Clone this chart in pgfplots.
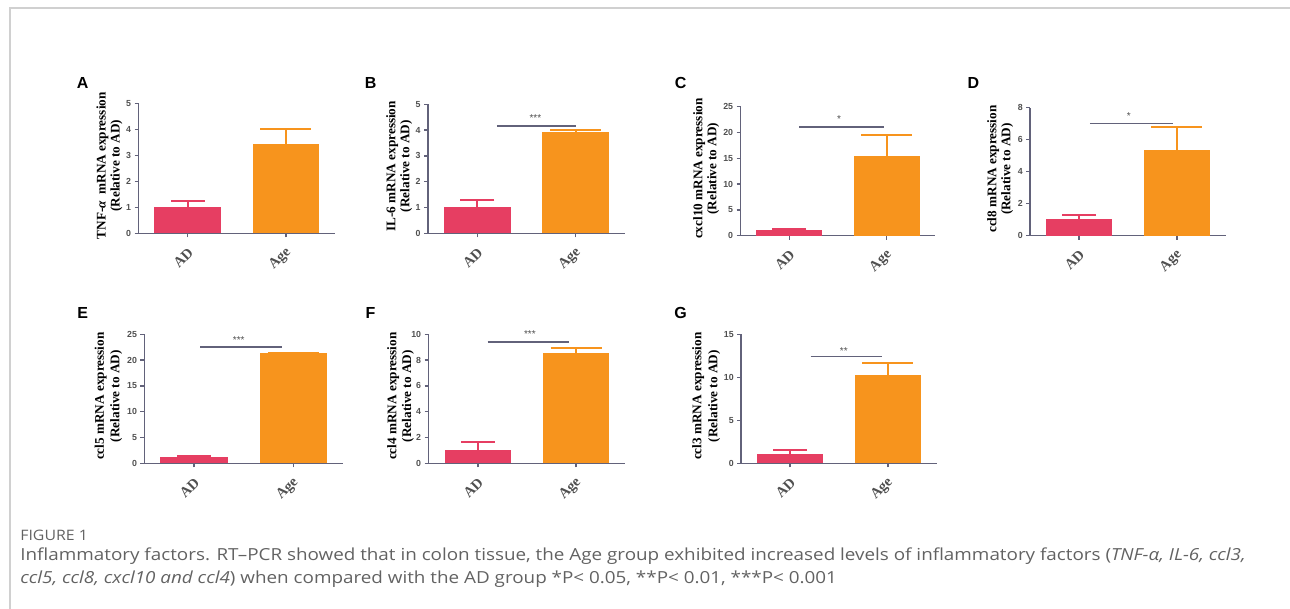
\documentclass[border=0pt]{standalone}
\usepackage{fontspec}
\setmainfont{Liberation Serif}
\newfontfamily\arialf{Liberation Sans}
\newfontfamily\capf{Open Sans}
\usepackage{pgfplots}
\pgfplotsset{compat=1.18}
\definecolor{adred}{HTML}{E63E62}
\definecolor{ageor}{HTML}{F7941D}
\definecolor{axc}{HTML}{62627A}
\definecolor{tickc}{HTML}{505050}
\definecolor{framec}{HTML}{D0D0D0}
\definecolor{capc}{HTML}{626262}
\pgfdeclareplotmark{agecap}{\pgfpathmoveto{\pgfqpoint{0pt}{2\pgfplotmarksize}}\pgfpathlineto{\pgfqpoint{0pt}{-\pgfplotmarksize}}\pgfusepathqstroke}
\pgfdeclareplotmark{adcap}{\pgfpathmoveto{\pgfqpoint{0pt}{-\pgfplotmarksize}}\pgfpathlineto{\pgfqpoint{0pt}{\pgfplotmarksize}}\pgfusepathqstroke}
\pgfplotsset{
  gp/.style={
    scale only axis, anchor=south west,
    axis lines=left,
    axis line style={-, line width=0.75pt, color=axc},
    xmin=-0.5, xmax=1.5, ymin=0,
    xtick={0,1}, xticklabels={AD,Age},
    tick align=outside, major tick length=2pt,
    tick style={line width=0.75pt, color=axc},
    xticklabel style={rotate=45, anchor=east, font=\bfseries\fontsize{7.3}{8}\selectfont, text=tickc, xshift=0pt, yshift=-5.6pt},
    yticklabel style={font=\arialf\bfseries\fontsize{4.4}{5}\selectfont, text=tickc, xshift=1.8pt},
    /pgf/number format/assume math mode=true,
    ylabel style={align=center, font=\bfseries\fontsize{6.6}{7}\selectfont, text=black,
      at={(axis description cs:0,0.52)}, anchor=center},
    ybar, bar width=0.676,
    clip=false,
  },
  adbar/.style={fill=adred, draw=none, bar shift=0pt,
    error bars/y dir=plus, error bars/y explicit,
    error bars/error bar style={line width=1pt, color=adred},
    error bars/error mark=adcap,
    error bars/error mark options={line width=1pt, color=adred, mark size=8.5pt}},
  agebar/.style={fill=ageor, draw=none, bar shift=0pt,
    error bars/y dir=plus, error bars/y explicit,
    error bars/error bar style={line width=1pt, color=ageor},
    error bars/error mark=agecap,
    error bars/error mark options={line width=1pt, color=ageor, mark size=8.5pt}},
  sig/.style={sharp plot, no marks, line width=0.75pt, color=axc},
}
\newcommand{\stars}[1]{{\arialf\fontsize{5}{5}\selectfont\color{tickc}#1}}
\begin{document}
\begin{tikzpicture}[x=0.5pt,y=-0.5pt]
\path[use as bounding box] (0,0) rectangle (1290,609);
\draw[framec, line width=1pt] (10,609) -- (10,8) -- (1290,8);
% panel letters
\begin{scope}[every node/.style={font=\arialf\bfseries\fontsize{8}{9}\selectfont}]
\node at (82.7,83.3) {A};
\node at (370.7,83.3) {B};
\node at (680.7,83.3) {C};
\node at (973.3,83.3) {D};
\node at (82.7,313.3) {E};
\node at (370.5,313.3) {F};
\node at (680.7,313.3) {G};
\end{scope}
% A
\begin{axis}[gp, at={(69.25pt,-116.65pt)}, width=98.3pt, height=65pt, ymax=5, ytick={0,1,2,3,4,5},
  ylabel style={yshift=14.5pt},
  ylabel={TNF-{\itshape α}\ \ mRNA expression\\(Relative to AD)}]
\addplot[adbar] coordinates {(0,1.02) +- (0,0.23)};
\addplot[agebar] coordinates {(1,3.42) +- (0,0.58)};
\end{axis}
% B
\begin{axis}[gp, at={(214.05pt,-116.65pt)}, width=98.4pt, height=64.5pt, ymax=5, ytick={0,1,2,3,4,5},
  ylabel style={yshift=14.5pt},
  ylabel={IL-6 mRNA expression\\(Relative to AD)}]
\addplot[adbar] coordinates {(0,1.01) +- (0,0.27)};
\addplot[agebar] coordinates {(1,3.94) +- (0,0.05)};
\addplot[sig] coordinates {(0.20,4.16) (1.0,4.16)};
\node at (axis cs:0.59,4.45) {\stars{***}};
\end{axis}
% C
\begin{axis}[gp, at={(370.3pt,-117.85pt)}, width=97.4pt, height=64.5pt, ymax=25, ytick={0,5,10,15,20,25},
  ylabel style={yshift=17.2pt},
  ylabel={cxcl10 mRNA expression\\(Relative to AD)}]
\addplot[adbar] coordinates {(0,1.1) +- (0,0.14)};
\addplot[agebar] coordinates {(1,15.45) +- (0,4.05)};
\addplot[sig] coordinates {(0.10,21.1) (0.97,21.1)};
\node at (axis cs:0.51,22.6) {\stars{*}};
\end{axis}
% D
\begin{axis}[gp, at={(515.1pt,-117.85pt)}, width=97.7pt, height=64pt, ymax=8, ytick={0,2,4,6,8},
  ylabel style={yshift=15pt},
  ylabel={ccl8 mRNA expression\\(Relative to AD)}]
\addplot[adbar] coordinates {(0,1.02) +- (0,0.29)};
\addplot[agebar] coordinates {(1,5.36) +- (0,1.41)};
\addplot[sig] coordinates {(0.11,7.02) (0.96,7.02)};
\node at (axis cs:0.51,7.5) {\stars{*}};
\end{axis}
% E
\begin{axis}[gp, at={(72.2pt,-231.65pt)}, width=99.3pt, height=64.5pt, ymax=25, ytick={0,5,10,15,20,25},
  ylabel style={yshift=18pt, font=\bfseries\fontsize{6.6}{7.8}\selectfont},
  ylabel={ccl5 mRNA expression\\(Relative to AD)}]
\addplot[adbar] coordinates {(0,1.16) +- (0,0.2)};
\addplot[agebar] coordinates {(1,21.3) +- (0,0.05)};
\addplot[sig] coordinates {(0.06,22.5) (0.89,22.5)};
\node at (axis cs:0.45,23.9) {\stars{***}};
\end{axis}
% F
\begin{axis}[gp, at={(214.3pt,-231.65pt)}, width=98.3pt, height=64.5pt, ymax=10, ytick={0,2,4,6,8,10},
  ylabel style={yshift=14pt, font=\bfseries\fontsize{6.6}{7.4}\selectfont},
  ylabel={ccl4 mRNA expression\\(Relative to AD)}]
\addplot[adbar] coordinates {(0,1.03) +- (0,0.65)};
\addplot[agebar] coordinates {(1,8.57) +- (0,0.34)};
\addplot[sig] coordinates {(0.10,9.42) (0.93,9.42)};
\node at (axis cs:0.53,10.0) {\stars{***}};
\end{axis}
% G
\begin{axis}[gp, at={(370.6pt,-231.65pt)}, width=97.7pt, height=64.5pt, ymax=15, ytick={0,5,10,15},
  ylabel style={yshift=17.5pt, font=\bfseries\fontsize{6.6}{8}\selectfont},
  ylabel={ccl3 mRNA expression\\(Relative to AD)}]
\addplot[adbar] coordinates {(0,1.05) +- (0,0.53)};
\addplot[agebar] coordinates {(1,10.23) +- (0,1.47)};
\addplot[sig] coordinates {(0.21,12.4) (0.94,12.4)};
\node at (axis cs:0.55,13.0) {\stars{**}};
\end{axis}
% caption
\begin{scope}[every node/.style={anchor=west, inner sep=0pt, text=capc}]
\node[font=\capf\fontsize{7.2}{8}\selectfont] at (20,535) {\scalebox{1.1}[1]{FIGURE 1}};
\node[font=\capf\fontsize{8.3}{9}\selectfont] at (20,556) {\scalebox{1.135}[1]{Inflammatory factors. RT–PCR showed that in colon tissue, the Age group exhibited increased levels of inflammatory factors (\textit{TNF-α, IL-6, ccl3,}}};
\node[font=\capf\fontsize{8.3}{9}\selectfont] at (20,579) {\scalebox{1.135}[1]{\textit{ccl5, ccl8, cxcl10 and ccl4}) when compared with the AD group *P< 0.05, **P< 0.01, ***P< 0.001}};
\end{scope}
\end{tikzpicture}
\end{document}
